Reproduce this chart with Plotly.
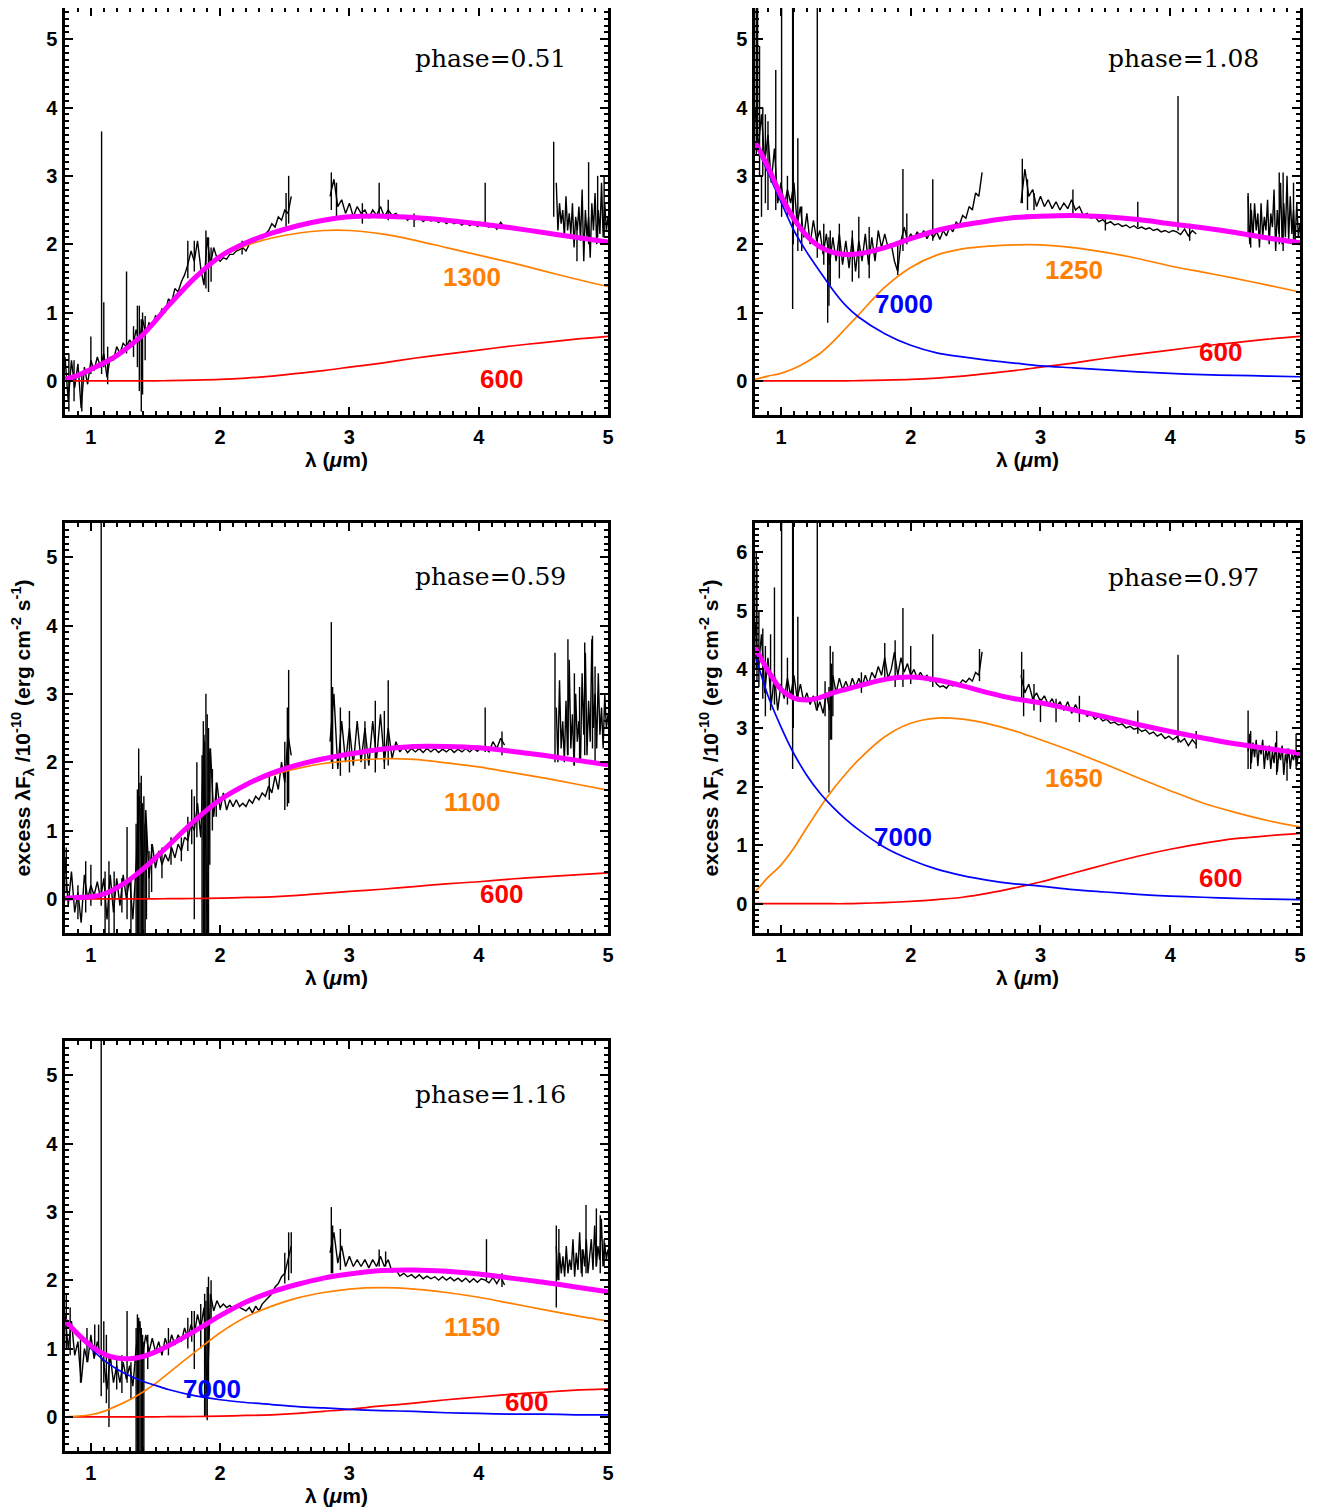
import numpy as np
import plotly.graph_objects as go

# ---------------- data ----------------
GRID = [0.8, 0.9, 1.0, 1.1, 1.2, 1.3, 1.4, 1.5, 1.6, 1.8, 2.0, 2.2, 2.4, 2.6, 2.8,
        3.0, 3.25, 3.5, 3.75, 4.0, 4.25, 4.5, 4.75, 5.0]
SEG_A = (0.80, 2.55)
SEG_B = (2.85, 4.20)
SEG_C = (4.60, 5.00)

PHASES = ["phase=0.51", "phase=1.08", "phase=0.59", "phase=0.97", "phase=1.16"]
ORANGE_T = ["1300", "1250", "1100", "1650", "1150"]
RED_T = ["600", "600", "600", "600", "600"]
BLUE_T = [None, "7000", None, "7000", "7000"]

# panel 1 (phase 0.51)
P1_TOTAL = [0.02, 0.08, 0.17, 0.26, 0.37, 0.51, 0.67, 0.88, 1.10, 1.50, 1.82, 2.02, 2.16, 2.27, 2.35,
            2.40, 2.41, 2.39, 2.35, 2.30, 2.24, 2.17, 2.10, 2.03]
P1_ORANGE = [0.02, 0.08, 0.17, 0.26, 0.37, 0.51, 0.67, 0.88, 1.10, 1.49, 1.80, 1.98, 2.09, 2.16, 2.20,
             2.20, 2.15, 2.06, 1.95, 1.84, 1.73, 1.61, 1.49, 1.38]
P1_RED = [0, 0, 0, 0, 0, 0, 0, 0, 0.003, 0.01, 0.02, 0.04, 0.07, 0.11, 0.15,
          0.20, 0.26, 0.33, 0.39, 0.45, 0.51, 0.56, 0.61, 0.65]
P1_SPEC_A = [0.35, -0.3, 0.3, -0.1, 0.25, -0.4, 0.2, -0.05, 0.3, 0.15, 0.35, 0.2, 0.4, 0.05, 0.35, 0.3,
             0.5, 0.4, 0.55, 0.5, 0.6, 0.5, 0.75, 0.55, 0.9, 0.7, 0.85, 0.8, 0.95, 0.92, 1.05, 1.0,
             1.2, 1.15, 1.35, 1.3, 1.45, 1.55, 1.7, 1.9, 1.75, 2.05, 1.65, 1.4, 2.1, 1.7, 1.95, 1.8,
             1.75, 1.8, 1.78, 1.85, 1.85, 1.9, 1.92, 1.95, 1.9, 2.0, 2.02, 2.05, 2.1, 2.08, 2.15, 2.2,
             2.3, 2.25, 2.4, 2.35, 2.5, 2.45, 2.7]
P1_SPEC_B = [2.7, 2.95, 2.55, 2.65, 2.45, 2.6, 2.4, 2.55, 2.45, 2.5, 2.38, 2.5, 2.42, 2.55, 2.4, 2.5,
             2.42, 2.45, 2.38, 2.42, 2.35, 2.4, 2.36, 2.4, 2.33, 2.37, 2.34, 2.36, 2.32, 2.36, 2.3,
             2.34, 2.3, 2.33, 2.28, 2.32, 2.27, 2.31, 2.26, 2.3, 2.28, 2.25, 2.3, 2.22, 2.32, 2.24]
P1_SPEC_C = [2.9, 2.2, 2.6, 2.3, 2.5, 2.1, 2.7, 2.2, 2.45, 2.15, 2.6, 1.95, 2.4, 2.2, 2.55, 2.05, 2.8,
             1.75, 2.5, 2.1, 2.4, 1.8, 2.6, 2.2, 2.75, 2.0, 2.5, 2.15, 2.9, 2.1, 2.6, 2.2, 2.4]
P1_SPIKES = [(0.83, -0.45, 0.4), (0.87, -0.3, 0.3), (0.93, -0.45, 0.1), (1.0, 0.1, 0.65),
             (1.083, 0.1, 3.65), (1.10, 0.2, 1.15), (1.13, -0.05, 0.5), (1.276, 0.4, 1.6),
             (1.33, 0.35, 0.8), (1.36, 0.2, 1.1), (1.375, -0.15, 1.1), (1.39, -0.45, 0.9),
             (1.40, -0.2, 1.0), (1.42, 0.3, 0.95), (1.75, 1.5, 2.05), (1.80, 1.6, 2.05),
             (1.89, 1.35, 2.2), (1.91, 1.3, 2.1), (1.93, 1.45, 1.95), (2.17, 1.85, 2.05),
             (2.51, 2.2, 2.75), (2.53, 2.3, 3.0), (2.86, 2.5, 3.05), (2.9, 2.4, 2.9),
             (3.1, 2.3, 2.6), (3.23, 2.4, 2.9), (3.3, 2.35, 2.65), (3.5, 2.25, 2.45),
             (4.05, 2.25, 2.9), (4.58, 2.4, 3.5), (4.76, 1.75, 2.3), (4.85, 2.0, 3.2),
             (4.92, 2.1, 3.0), (4.97, 2.1, 3.0)]

# panel 2 (phase 1.08)
P2_TOTAL = [3.50, 3.13, 2.71, 2.37, 2.12, 1.96, 1.88, 1.85, 1.86, 1.95, 2.08, 2.20, 2.28, 2.34, 2.39,
            2.41, 2.42, 2.40, 2.36, 2.30, 2.24, 2.17, 2.09, 2.02]
P2_BLUE = [3.48, 3.05, 2.62, 2.20, 1.88, 1.60, 1.33, 1.10, 0.93, 0.69, 0.52, 0.41, 0.35, 0.30, 0.26,
           0.22, 0.19, 0.16, 0.13, 0.11, 0.09, 0.08, 0.07, 0.06]
P2_ORANGE = [0.02, 0.07, 0.11, 0.18, 0.28, 0.40, 0.57, 0.77, 0.97, 1.37, 1.66, 1.84, 1.93, 1.97, 1.99,
             1.99, 1.95, 1.88, 1.79, 1.68, 1.59, 1.50, 1.40, 1.30]
P2_RED = [0, 0, 0, 0, 0, 0, 0, 0, 0.003, 0.01, 0.02, 0.04, 0.07, 0.11, 0.15,
          0.20, 0.26, 0.33, 0.39, 0.45, 0.51, 0.56, 0.61, 0.65]
P2_SPEC_A = [4.0, 3.4, 3.9, 3.2, 3.6, 2.9, 3.4, 2.6, 2.9, 2.55, 2.8, 2.6, 2.9, 2.3, 2.55, 2.1, 2.45,
             2.0, 2.35, 2.05, 2.2, 1.85, 2.15, 1.7, 2.1, 1.75, 2.15, 1.7, 2.05, 1.65, 2.1, 1.6, 2.05,
             1.75, 2.15, 1.7, 2.1, 1.75, 2.2, 1.95, 2.15, 1.95, 2.0, 1.75, 1.6, 2.05, 2.25, 2.05,
             2.15, 2.08, 2.18, 2.1, 2.2, 2.08, 2.17, 2.1, 2.18, 2.07, 2.2, 2.12, 2.25, 2.18, 2.32,
             2.28, 2.42, 2.38, 2.55, 2.5, 2.75, 2.7, 3.05]
P2_SPEC_B = [2.6, 3.1, 2.7, 2.8, 2.55, 2.7, 2.55, 2.65, 2.52, 2.62, 2.5, 2.6, 2.52, 2.65, 2.5, 2.55,
             2.42, 2.45, 2.38, 2.4, 2.33, 2.36, 2.3, 2.33, 2.28, 2.3, 2.26, 2.28, 2.24, 2.27, 2.23,
             2.25, 2.22, 2.24, 2.2, 2.22, 2.18, 2.2, 2.17, 2.2, 2.18, 2.14, 2.22, 2.12, 2.2, 2.15]
P2_SPEC_C = [2.7, 2.0, 2.5, 2.1, 2.6, 2.2, 2.45, 1.95, 2.6, 2.1, 2.4, 2.2, 2.65, 2.0, 2.45, 2.25, 2.8,
             1.9, 2.5, 2.15, 2.9, 2.0, 2.6, 2.1, 3.0, 2.05, 2.7, 2.15, 2.5, 2.05, 2.6, 2.1, 2.3]
P2_SPIKES = [(0.81, 3.3, 5.5), (0.82, 3.5, 6.0), (0.835, 3.0, 4.9), (0.85, 2.4, 3.0), (0.86, 3.0, 4.0),
             (0.88, 2.6, 3.9), (0.90, 2.5, 3.8), (0.96, 2.5, 4.55), (1.005, 2.4, 6.0), (1.05, 2.4, 3.0),
             (1.09, 1.05, 6.0), (1.095, 2.0, 6.0), (1.13, 1.9, 3.55), (1.16, 1.9, 2.55),
             (1.28, 1.8, 6.0), (1.33, 1.7, 2.3), (1.36, 0.85, 2.0), (1.37, 1.1, 2.1), (1.38, 1.4, 2.2),
             (1.45, 1.5, 2.3), (1.55, 1.45, 2.2), (1.60, 1.5, 2.4), (1.68, 1.5, 2.25),
             (1.90, 1.55, 2.0), (1.94, 1.9, 3.1), (1.97, 2.0, 2.45), (2.17, 2.05, 2.95),
             (2.86, 2.6, 3.25), (2.90, 2.5, 2.95), (2.95, 2.5, 2.75), (3.25, 2.45, 2.8),
             (3.5, 2.2, 2.4), (3.75, 2.25, 2.62), (4.06, 2.2, 4.17), (4.15, 2.05, 2.3),
             (4.60, 2.1, 2.75), (4.62, 1.95, 2.6), (4.84, 2.0, 3.05), (4.87, 1.9, 3.05),
             (4.95, 2.0, 2.9)]

# panel 3 (phase 0.59)
P3_TOTAL = [0.01, 0.02, 0.03, 0.07, 0.16, 0.28, 0.43, 0.60, 0.78, 1.14, 1.45, 1.67, 1.84, 1.96, 2.05,
            2.12, 2.19, 2.23, 2.23, 2.21, 2.16, 2.10, 2.03, 1.96]
P3_ORANGE = [0.01, 0.02, 0.03, 0.07, 0.16, 0.28, 0.43, 0.60, 0.78, 1.13, 1.44, 1.65, 1.81, 1.91, 1.98,
             2.02, 2.05, 2.04, 1.99, 1.93, 1.85, 1.77, 1.68, 1.59]
P3_RED = [0, 0, 0, 0, 0, 0, 0, 0, 0.002, 0.005, 0.01, 0.02, 0.03, 0.05, 0.08,
          0.11, 0.14, 0.18, 0.22, 0.25, 0.29, 0.32, 0.35, 0.38]
P3_SPEC_A = [0.6, -0.1, 0.4, -0.2, 0.1, -0.35, 0.35, 0.0, 0.2, 0.05, 0.25, 0.0, 0.3, -0.3, 0.35, -0.2,
             0.3, -0.1, 0.35, 0.0, 0.3, -0.3, 0.5, 1.5, 0.2, 1.3, 0.3, 0.8, 0.45, 0.7, 0.5, 0.65,
             0.55, 0.75, 0.6, 0.8, 0.7, 0.9, 0.85, 1.1, 1.0, 1.4, 0.9, 2.4, -0.5, 2.2, 1.2, 1.7,
             1.3, 1.55, 1.3, 1.45, 1.35, 1.45, 1.35, 1.4, 1.35, 1.45, 1.4, 1.5, 1.45, 1.55, 1.5,
             1.65, 1.55, 1.8, 1.6, 2.0, 1.7, 2.4, 2.1]
P3_SPEC_B = [2.3, 3.0, 1.9, 2.6, 2.0, 2.5, 1.95, 2.6, 2.0, 2.5, 1.95, 2.6, 2.05, 2.7, 2.0, 2.5, 2.05,
             2.3, 2.15, 2.22, 2.14, 2.2, 2.15, 2.2, 2.14, 2.2, 2.15, 2.2, 2.14, 2.19, 2.15, 2.2,
             2.14, 2.19, 2.15, 2.2, 2.15, 2.2, 2.16, 2.22, 2.2, 2.15, 2.3, 2.2, 2.35, 2.25]
P3_SPEC_C = [2.8, 2.0, 3.2, 2.2, 2.6, 2.0, 2.9, 2.1, 3.5, 2.2, 2.7, 1.95, 3.0, 2.3, 2.6, 2.0, 3.3,
             2.4, 3.6, 2.1, 2.9, 2.3, 3.8, 2.5, 3.0, 2.2, 3.3, 2.4, 2.8, 2.2, 3.0, 2.5, 2.7]
P3_SPIKES = [(0.81, 0.1, 0.75), (0.90, -0.3, 0.2), (0.96, -0.2, 0.55), (1.0, -0.1, 0.5),
             (1.08, -0.1, 6.0), (1.11, -0.6, 0.4), (1.14, -0.6, 0.55), (1.18, -0.5, 0.4),
             (1.24, -0.2, 0.3), (1.28, -0.3, 1.05), (1.31, -0.6, 0.3), (1.35, -0.6, 1.1),
             (1.36, -0.6, 1.6), (1.37, -0.6, 2.2), (1.38, -0.6, 1.7), (1.39, -0.6, 1.8),
             (1.40, -0.6, 1.4), (1.41, -0.6, 1.5), (1.42, -0.6, 1.1), (1.43, -0.3, 1.0),
             (1.45, 0.0, 0.7), (1.47, 0.1, 0.8), (1.55, 0.3, 0.75), (1.62, 0.5, 0.9),
             (1.70, 0.55, 0.9), (1.75, 0.7, 1.2), (1.78, 0.8, 1.6), (1.80, -0.3, 1.5),
             (1.82, 0.9, 2.0), (1.86, -0.6, 2.1), (1.87, -0.6, 2.6), (1.88, -0.6, 2.3),
             (1.89, -0.6, 3.0), (1.90, -0.6, 2.7), (1.91, -0.6, 2.5), (1.92, 0.5, 2.2),
             (1.94, 1.0, 1.9), (1.97, 1.2, 1.7), (2.38, 1.45, 1.8), (2.50, 1.3, 2.3),
             (2.52, 1.35, 2.8), (2.53, 1.4, 3.35), (2.86, 2.0, 4.05), (2.87, 1.9, 3.1),
             (2.93, 1.8, 2.8), (3.0, 1.85, 2.75), (3.12, 1.9, 2.6), (3.2, 1.85, 2.9),
             (3.27, 1.9, 2.75), (3.3, 1.95, 3.2), (4.05, 2.15, 2.8), (4.18, 2.1, 2.45),
             (4.59, 2.0, 3.6), (4.69, 2.1, 3.8), (4.74, 1.95, 3.3), (4.78, 2.0, 3.1),
             (4.82, 2.1, 3.75), (4.88, 2.2, 3.85), (4.90, 2.0, 3.4)]

# panel 4 (phase 0.97)
P4_TOTAL = [4.37, 3.98, 3.66, 3.51, 3.48, 3.52, 3.60, 3.66, 3.72, 3.83, 3.87, 3.82, 3.72, 3.60, 3.50,
            3.43, 3.31, 3.19, 3.06, 2.94, 2.83, 2.73, 2.65, 2.57]
P4_BLUE = [4.25, 3.55, 3.02, 2.56, 2.19, 1.89, 1.65, 1.44, 1.26, 0.96, 0.75, 0.59, 0.48, 0.40, 0.34,
           0.30, 0.24, 0.20, 0.16, 0.13, 0.11, 0.09, 0.08, 0.07]
P4_ORANGE = [0.20, 0.45, 0.66, 0.95, 1.30, 1.64, 1.95, 2.22, 2.46, 2.85, 3.08, 3.17, 3.15, 3.07, 2.95,
             2.80, 2.60, 2.38, 2.15, 1.93, 1.72, 1.56, 1.42, 1.31]
P4_RED = [0, 0, 0, 0, 0, 0, 0, 0, 0.005, 0.02, 0.04, 0.07, 0.11, 0.18, 0.27,
          0.37, 0.52, 0.67, 0.81, 0.93, 1.03, 1.11, 1.16, 1.20]
P4_SPEC_A = [4.8, 4.0, 4.6, 3.6, 4.2, 3.4, 3.9, 3.3, 3.75, 3.5, 3.85, 3.55, 3.9, 3.5, 3.75, 3.45, 3.6,
             3.4, 3.55, 3.3, 3.45, 3.25, 3.6, 3.3, 3.9, 3.6, 3.85, 3.65, 3.8, 3.65, 3.85, 3.7, 3.85,
             3.7, 3.9, 3.75, 3.95, 3.85, 4.05, 3.9, 4.2, 3.85, 4.0, 4.3, 3.9, 4.2, 3.95, 4.1, 3.9,
             4.0, 3.85, 3.95, 3.85, 3.9, 3.8, 3.85, 3.75, 3.7, 3.72, 3.68, 3.75, 3.72, 3.78, 3.75,
             3.82, 3.78, 3.85, 3.8, 3.95, 3.9, 4.3]
P4_SPEC_B = [3.9, 3.6, 3.75, 3.5, 3.6, 3.45, 3.55, 3.4, 3.5, 3.35, 3.45, 3.3, 3.45, 3.25, 3.4, 3.25,
             3.3, 3.2, 3.25, 3.15, 3.2, 3.12, 3.15, 3.08, 3.1, 3.05, 3.07, 3.0, 3.03, 2.98, 3.0, 2.94,
             2.97, 2.9, 2.93, 2.86, 2.9, 2.82, 2.86, 2.8, 2.85, 2.76, 2.82, 2.7, 2.8, 2.72]
P4_SPEC_C = [2.6, 2.9, 2.4, 2.75, 2.5, 2.8, 2.35, 2.7, 2.55, 2.8, 2.3, 2.65, 2.45, 2.7, 2.3, 2.6, 2.4,
             2.75, 2.25, 2.6, 2.45, 2.7, 2.2, 2.55, 2.4, 2.65, 2.3, 2.55, 2.45, 2.6, 2.35, 2.55, 2.5]
P4_SPIKES = [(0.81, 4.0, 6.0), (0.815, 3.8, 5.85), (0.83, 3.7, 5.0), (0.86, 3.5, 4.7), (0.88, 3.2, 4.4),
             (0.92, 3.3, 4.6), (0.95, 3.4, 5.4), (1.005, 3.6, 7.0), (1.05, 3.4, 4.2), (1.09, 2.3, 7.0),
             (1.095, 3.0, 7.0), (1.13, 3.5, 4.9), (1.28, 3.3, 7.0), (1.34, 3.2, 3.8), (1.37, 1.9, 3.7),
             (1.38, 2.8, 4.4), (1.39, 2.8, 4.1), (1.40, 3.2, 4.3), (1.62, 3.6, 3.95), (1.80, 3.8, 4.45),
             (1.88, 3.7, 4.5), (1.94, 3.7, 5.05), (2.0, 3.75, 4.4), (2.17, 3.7, 4.6), (2.53, 3.8, 4.35),
             (2.855, 3.5, 4.3), (2.87, 3.2, 4.0), (2.95, 3.3, 3.75), (3.0, 3.1, 3.5), (3.12, 3.1, 3.5),
             (3.3, 3.1, 3.55), (3.75, 2.9, 3.3), (4.06, 2.75, 4.25), (4.2, 2.65, 2.95),
             (4.60, 2.3, 3.3), (4.62, 2.3, 2.95), (4.82, 2.2, 2.95), (4.90, 2.1, 2.65), (4.97, 2.3, 2.9)]

# panel 5 (phase 1.16)
P5_TOTAL = [1.41, 1.21, 1.04, 0.92, 0.86, 0.85, 0.88, 0.95, 1.04, 1.25, 1.48, 1.68, 1.83, 1.94, 2.03,
            2.09, 2.14, 2.15, 2.13, 2.09, 2.03, 1.97, 1.90, 1.83]
P5_BLUE = [1.41, 1.19, 1.00, 0.83, 0.70, 0.60, 0.52, 0.46, 0.40, 0.31, 0.25, 0.21, 0.18, 0.15, 0.13,
           0.11, 0.09, 0.08, 0.06, 0.05, 0.04, 0.04, 0.03, 0.03]
P5_ORANGE = [0.0, 0.01, 0.03, 0.08, 0.16, 0.25, 0.36, 0.49, 0.64, 0.94, 1.23, 1.46, 1.62, 1.74, 1.82,
             1.87, 1.89, 1.87, 1.82, 1.75, 1.66, 1.57, 1.48, 1.40]
P5_RED = [0, 0, 0, 0, 0, 0, 0, 0, 0.002, 0.005, 0.01, 0.02, 0.03, 0.05, 0.08,
          0.11, 0.16, 0.20, 0.25, 0.29, 0.33, 0.36, 0.39, 0.41]
P5_SPEC_A = [1.5, 1.0, 1.4, 0.9, 1.1, 0.5, 1.0, 0.8, 1.2, 0.85, 1.1, 0.9, 0.8, 0.4, 0.9, 0.5, 0.75, 0.5,
             0.8, 0.55, 0.75, 0.45, 1.0, 1.4, 0.9, 1.2, 0.95, 1.15, 0.95, 1.1, 0.9, 1.15, 1.0, 1.2,
             1.05, 1.2, 1.1, 1.3, 1.15, 1.35, 1.2, 1.5, 1.3, 1.6, 0.3, 1.8, 1.55, 1.7, 1.6, 1.65,
             1.6, 1.63, 1.58, 1.62, 1.6, 1.58, 1.55, 1.6, 1.52, 1.62, 1.55, 1.65, 1.7, 1.75, 1.8,
             1.9, 1.95, 2.05, 2.1, 2.3, 2.5]
P5_SPEC_B = [2.4, 2.7, 2.25, 2.5, 2.2, 2.35, 2.2, 2.3, 2.2, 2.3, 2.18, 2.3, 2.2, 2.35, 2.2, 2.3, 2.12,
             2.15, 2.06, 2.1, 2.05, 2.08, 2.03, 2.08, 2.02, 2.06, 2.02, 2.05, 2.0, 2.05, 2.0, 2.04,
             1.99, 2.03, 1.98, 2.03, 1.97, 2.02, 1.97, 2.02, 2.0, 1.96, 2.04, 1.95, 2.05, 1.93]
P5_SPEC_C = [2.5, 2.0, 2.4, 2.1, 2.35, 2.05, 2.5, 2.1, 2.3, 2.15, 2.6, 2.05, 2.4, 2.15, 2.7, 2.1, 2.45,
             2.2, 2.6, 2.1, 2.35, 2.6, 2.15, 2.8, 2.2, 2.5, 2.3, 2.9, 2.2, 2.55, 2.3, 2.45]
P5_SPIKES = [(0.81, 1.0, 1.8), (0.84, 0.9, 1.6), (0.92, 0.5, 1.2), (0.97, 0.8, 1.3), (1.03, 0.9, 1.35),
             (1.06, 0.95, 1.35), (1.08, 0.3, 6.0), (1.10, 0.5, 1.4), (1.12, 0.2, 1.2),
             (1.14, -0.15, 0.9), (1.20, 0.4, 0.85), (1.24, 0.35, 0.9), (1.28, 0.5, 1.55),
             (1.31, 0.25, 0.8), (1.35, -0.6, 1.3), (1.36, -0.6, 1.5), (1.37, -0.6, 1.45),
             (1.38, -0.6, 1.4), (1.39, -0.6, 1.3), (1.40, -0.6, 1.2), (1.41, -0.5, 1.1),
             (1.44, 0.7, 1.2), (1.60, 0.9, 1.3), (1.75, 1.0, 1.45), (1.78, 1.1, 1.55),
             (1.80, 0.7, 1.55), (1.85, 1.0, 1.65), (1.88, 0.0, 1.8), (1.89, 0.0, 1.7),
             (1.90, -0.05, 1.9), (1.91, 0.5, 2.05), (1.93, 1.4, 2.0), (2.50, 1.95, 2.4),
             (2.53, 2.0, 2.7), (2.55, 2.1, 2.7), (2.86, 2.1, 3.07), (2.87, 2.1, 2.8),
             (2.93, 2.15, 2.75), (3.23, 2.2, 2.45), (3.28, 2.2, 2.42), (4.06, 2.0, 2.6),
             (4.18, 1.9, 2.1), (4.60, 1.6, 2.8), (4.62, 2.0, 2.75), (4.80, 2.05, 2.45),
             (4.83, 2.1, 3.1), (4.91, 2.2, 3.05), (4.94, 2.1, 2.95), (4.97, 2.2, 2.6)]

PANELS = [
    dict(total=P1_TOTAL, orange=P1_ORANGE, red=P1_RED, blue=None,
         a=P1_SPEC_A, b=P1_SPEC_B, c=P1_SPEC_C, spikes=P1_SPIKES),
    dict(total=P2_TOTAL, orange=P2_ORANGE, red=P2_RED, blue=P2_BLUE,
         a=P2_SPEC_A, b=P2_SPEC_B, c=P2_SPEC_C, spikes=P2_SPIKES),
    dict(total=P3_TOTAL, orange=P3_ORANGE, red=P3_RED, blue=None,
         a=P3_SPEC_A, b=P3_SPEC_B, c=P3_SPEC_C, spikes=P3_SPIKES),
    dict(total=P4_TOTAL, orange=P4_ORANGE, red=P4_RED, blue=P4_BLUE,
         a=P4_SPEC_A, b=P4_SPEC_B, c=P4_SPEC_C, spikes=P4_SPIKES),
    dict(total=P5_TOTAL, orange=P5_ORANGE, red=P5_RED, blue=P5_BLUE,
         a=P5_SPEC_A, b=P5_SPEC_B, c=P5_SPEC_C, spikes=P5_SPIKES),
]

# ---------------- layout ----------------
PAGE_MARGIN = 8          # default body margin of the html page
W, H = 1321 - PAGE_MARGIN, 1510 - PAGE_MARGIN
# (left, right, top, bottom) in screen pixels for each panel
BOX = [(65, 608, 5, 415), (755, 1300, 5, 415), (65, 608, 523, 933),
       (755, 1300, 523, 933), (65, 608, 1041, 1451)]
YRANGE = [(-0.5, 5.5), (-0.5, 5.5), (-0.5, 5.5), (-0.5, 6.5), (-0.5, 5.5)]
# annotation anchors (data coords): phase, orange label, red label, blue label
POS = [
    dict(ph=(4.09, 4.71), o=(3.95, 1.52), r=(4.18, 0.03), b=None),
    dict(ph=(4.10, 4.71), o=(3.26, 1.62), r=(4.39, 0.42), b=(1.95, 1.13)),
    dict(ph=(4.09, 4.71), o=(3.95, 1.42), r=(4.18, 0.07), b=None),
    dict(ph=(4.10, 5.57), o=(3.26, 2.15), r=(4.39, 0.44), b=(1.94, 1.14)),
    dict(ph=(4.09, 4.71), o=(3.95, 1.32), r=(4.37, 0.22), b=(1.94, 0.41)),
]

ORANGE = "#FF8000"
RED = "#FF0000"
BLUE = "#0000FF"
MAGENTA = "#FF00FF"
TICKFONT = dict(family="Liberation Sans", size=20, color="black", weight="bold")
LABFONT = dict(family="Liberation Sans", size=26, weight="bold")
YTITLE = "excess λF<sub>λ</sub> /10<sup>-10</sup> (erg cm<sup>-2</sup> s<sup>-1</sup>)"

fig = go.Figure()
annotations = []
layout = {}

for i, p in enumerate(PANELS):
    k = "" if i == 0 else str(i + 1)
    xa, ya = "x" + k, "y" + k
    for key, (lo, hi) in (("a", SEG_A), ("b", SEG_B), ("c", SEG_C)):
        ys = p[key]
        xs = np.linspace(lo, hi, len(ys))
        fig.add_trace(go.Scatter(x=xs, y=ys, mode="lines", xaxis=xa, yaxis=ya,
                                 line=dict(color="black", width=1.4), showlegend=False,
                                 hoverinfo="skip"))
    sx, sy = [], []
    for (x0, lo, hi) in p["spikes"]:
        sx += [x0, x0, None]
        sy += [lo, hi, None]
    fig.add_trace(go.Scatter(x=sx, y=sy, mode="lines", xaxis=xa, yaxis=ya,
                             line=dict(color="black", width=1.4), showlegend=False,
                             hoverinfo="skip"))
    for arr, col in ((p["red"], RED), (p["orange"], ORANGE), (p["blue"], BLUE)):
        if arr is None:
            continue
        fig.add_trace(go.Scatter(x=GRID, y=arr, mode="lines", xaxis=xa, yaxis=ya,
                                 line=dict(color=col, width=1.7, shape="spline", smoothing=0.8),
                                 showlegend=False, hoverinfo="skip"))
    fig.add_trace(go.Scatter(x=GRID, y=p["total"], mode="lines", xaxis=xa, yaxis=ya,
                             line=dict(color=MAGENTA, width=5, shape="spline", smoothing=0.8),
                             showlegend=False, hoverinfo="skip"))

    l, r, t, b = [v - PAGE_MARGIN for v in BOX[i]]
    y0, y1 = YRANGE[i]
    if t < 0:  # panel top would be above the page: clip it, keeping the data scale
        pxu = (b - t) / (y1 - y0)
        y1 = y1 - (-t) / pxu
        t = 0
    common = dict(showline=True, linewidth=2.5, linecolor="black", mirror="allticks",
                  ticks="inside", ticklen=8, tickwidth=2, tickcolor="black",
                  showgrid=False, zeroline=False, tickfont=TICKFONT, fixedrange=True,
                  automargin=False)
    layout["xaxis" + k] = dict(
        common, domain=[l / W, r / W], anchor=ya, range=[0.8, 5.0],
        tickmode="linear", tick0=0, dtick=1, ticklabelstandoff=2,
        minor=dict(dtick=0.1, tick0=0, ticks="inside", ticklen=4, tickwidth=1.5,
                   tickcolor="black", showgrid=False),
        title=dict(text="λ (<i>μ</i>m)", standoff=3,
                   font=dict(family="Liberation Sans", size=21, weight="bold", color="black")))
    ydict = dict(
        common, domain=[1 - b / H, 1 - t / H], anchor=xa, range=[y0, y1],
        tickmode="linear", tick0=0, dtick=1, ticklabelstandoff=1,
        minor=dict(dtick=0.1, tick0=0, ticks="inside", ticklen=4, tickwidth=1.5,
                   tickcolor="black", showgrid=False))
    if i in (2, 3):
        ydict["title"] = dict(text=YTITLE, standoff=12,
                              font=dict(family="Liberation Sans", size=21, weight="bold",
                                        color="black"))
    layout["yaxis" + k] = ydict

    pos = POS[i]
    annotations.append(dict(x=pos["ph"][0], y=pos["ph"][1], xref=xa, yref=ya, text=PHASES[i],
                            showarrow=False, font=dict(family="DejaVu Serif", size=25, color="black")))
    annotations.append(dict(x=pos["o"][0], y=pos["o"][1], xref=xa, yref=ya, text=ORANGE_T[i],
                            showarrow=False, font=dict(LABFONT, color=ORANGE)))
    annotations.append(dict(x=pos["r"][0], y=pos["r"][1], xref=xa, yref=ya, text=RED_T[i],
                            showarrow=False, font=dict(LABFONT, color=RED)))
    if pos["b"] is not None and BLUE_T[i]:
        annotations.append(dict(x=pos["b"][0], y=pos["b"][1], xref=xa, yref=ya, text=BLUE_T[i],
                                showarrow=False, font=dict(LABFONT, color=BLUE)))

fig.update_layout(width=W, height=H, margin=dict(l=0, r=0, t=0, b=0),
                  paper_bgcolor="white", plot_bgcolor="white",
                  annotations=annotations, showlegend=False, **layout)
fig.write_html("out.html")
